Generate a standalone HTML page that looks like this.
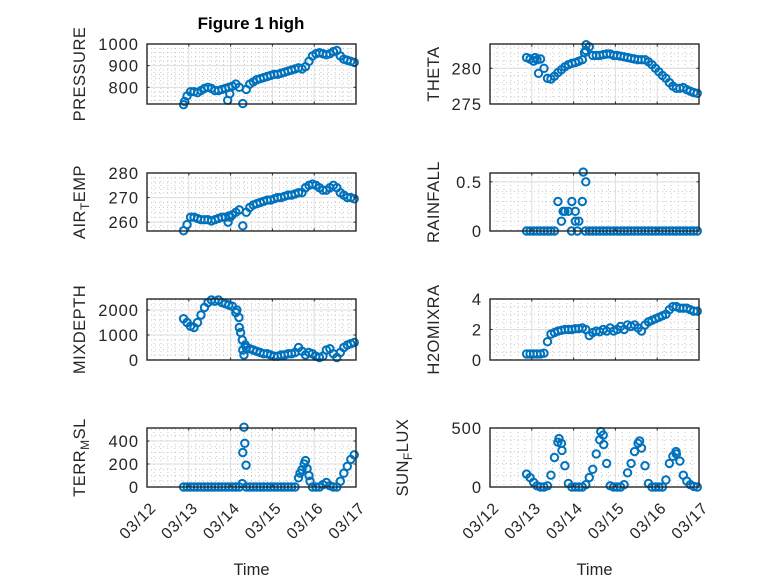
<!DOCTYPE html>
<html><head><meta charset="utf-8"><style>
body{margin:0;background:#fff}
svg{display:block;font-family:"Liberation Sans",sans-serif}
</style></head><body>
<svg id="fig" width="778" height="583" viewBox="0 0 778 583" xmlns="http://www.w3.org/2000/svg">
<rect width="778" height="583" fill="#fff"/>
<text x="251" y="29" text-anchor="middle" font-size="17" font-weight="bold" fill="#000">Figure 1 high</text>
</svg>
<script>
// shared sample times (days since 03/12 00:00), 2-hour step
const timeDays = [];
for (let i = 0; i < 50; i++) timeDays.push(0.875 + i / 12);
const xTickLabels = ["03/12","03/13","03/14","03/15","03/16","03/17"];

const pressureValues = [720,760,780,780,775,785,795,800,795,785,785,790,795,800,805,815,800,725,790,815,825,835,840,845,850,855,860,860,865,870,875,880,885,890,885,895,920,945,955,960,955,950,955,965,970,945,930,925,920,915];
const pressureExtraT = [1.93,1.98,0.9];
const pressureExtraV = [740,770,735];
const airTempValues = [256.5,259,262,262,261.5,261,261,261,260.5,261,261.5,262,262,262.5,263,264,265,258.5,264,266,267,267.5,268,268.5,269,269,269.5,270,270,270.5,271,271,271.5,272,272,274,275,275.5,275,274,273,273,274,275,274,272,271,270,270,269.5];
const airTempExtraT = [1.94,1.99];
const airTempExtraV = [260,262];
const thetaValues = [281.5,281.3,281,281.2,281.3,280,278.6,278.5,278.9,279.4,279.8,280.2,280.5,280.7,280.8,281,281.2,282.5,283,281.8,281.8,281.8,281.9,282,282,281.8,281.8,281.7,281.6,281.5,281.4,281.3,281.2,281.2,281.2,280.9,280.5,280,279.5,279,278.6,278,277.5,277.2,277.2,277.3,277,276.8,276.6,276.5];
const thetaExtraT = [2.26,2.3,1.16,1.08];
const thetaExtraV = [282.2,283.3,279.3,281.5];
const rainValues = [0,0,0,0,0,0,0,0,0,0.3,0.1,0.2,0.2,0.3,0.1,0.1,0.3,0.5,0,0,0,0,0,0,0,0,0,0,0,0,0,0,0,0,0,0,0,0,0,0,0,0,0,0,0,0,0,0,0,0];
const rainExtraT = [1.95,2.09,2.23,1.75,2.04,2.28];
const rainExtraV = [0,0,0.6,0.2,0.2,0];
const mixDepthValues = [1650,1500,1350,1300,1500,1800,2100,2300,2400,2350,2400,2300,2250,2200,2150,1900,1300,400,500,450,400,350,300,250,250,200,150,150,200,200,250,250,300,500,350,200,300,250,150,100,150,400,450,250,100,300,500,600,650,700];
const mixDepthExtraT = [2.15,2.2,2.24,2.28,2.32,2.35];
const mixDepthExtraV = [2000,1700,1100,800,200,600];
const h2oValues = [0.4,0.4,0.4,0.4,0.4,0.45,1.2,1.7,1.8,1.9,1.95,2.0,2.0,2.0,2.05,2.05,2.1,2.0,1.6,1.8,1.9,1.85,2.0,1.9,2.1,1.9,2.0,2.2,2.0,2.3,2.2,2.3,2.1,1.9,2.3,2.5,2.6,2.7,2.8,2.9,3.0,3.3,3.5,3.5,3.4,3.4,3.4,3.3,3.2,3.2];
const terrValues = [0,0,0,0,0,0,0,0,0,0,0,0,0,0,0,0,0,300,0,0,0,0,0,0,0,0,0,0,0,0,0,0,0,80,150,230,100,0,0,0,20,40,10,0,0,50,120,180,240,280];
const terrExtraT = [2.32,2.34,2.37,2.28,3.66,3.76,3.83,3.9];
const terrExtraV = [520,380,190,30,120,200,160,50];
const sunValues = [110,80,40,10,0,0,10,100,250,380,370,180,30,0,0,0,0,20,80,150,280,400,440,200,10,0,0,0,20,120,200,300,370,330,180,30,0,0,0,0,60,200,260,280,220,100,50,20,5,0];
const sunExtraT = [1.65,2.65,2.72,1.72,3.58,4.45];
const sunExtraV = [410,470,360,310,390,300];

const NS = "http://www.w3.org/2000/svg";
const svg = document.getElementById("fig");
function mk(tag, attrs, parent){const e=document.createElementNS(NS,tag);for(const k in attrs)e.setAttribute(k,attrs[k]);(parent||svg).appendChild(e);return e;}

function panel(cfg){
  const g = mk("g",{});
  
  
  const {L,R,T,B,ymin,ymax} = cfg;
  const xs = t => L + (t/5)*(R-L);
  const ys = v => B - (v-ymin)/(ymax-ymin)*(B-T);
  for (let d=0; d<5; d++) for (let k=1;k<6;k++){
    const x = xs(d + k/6);
    mk("line",{x1:x,x2:x,y1:T,y2:B,stroke:"#c8c8c8","stroke-width":1,"stroke-dasharray":"1 3"},g);
  }
  const ymStep = cfg.minor;
  for (let v=Math.ceil(ymin/ymStep)*ymStep; v<=ymax+1e-9; v+=ymStep){
    const y=ys(v); if (y<T+0.5||y>B-0.5) continue;
    mk("line",{x1:L,x2:R,y1:y,y2:y,stroke:"#c8c8c8","stroke-width":1,"stroke-dasharray":"1 3"},g);
  }
  for (let d=1; d<5; d++){const x=xs(d);mk("line",{x1:x,x2:x,y1:T,y2:B,stroke:"#dedede","stroke-width":1},g);}
  cfg.ticks.forEach(v=>{const y=ys(v); if(y>T+0.5&&y<B-0.5) mk("line",{x1:L,x2:R,y1:y,y2:y,stroke:"#dedede","stroke-width":1},g);});
  const dg = mk("g",{},g);
  
  
  const pts = timeDays.map((t,i)=>[t,cfg.values[i]]).concat((cfg.exT||[]).map((t,i)=>[t,cfg.exV[i]]));
  pts.forEach(p=>{
    const c = mk("circle",{cx:xs(p[0]),cy:ys(p[1]),r:3.7,fill:"none",stroke:"#0072BD","stroke-width":2},dg);
    
    
  });
  mk("rect",{x:L,y:T,width:R-L,height:B-T,fill:"none",stroke:"#262626","stroke-width":1.4},g);
  for (let d=0; d<=5; d++){const x=xs(d);
    mk("line",{x1:x,x2:x,y1:B,y2:B-2.5,stroke:"#262626"},g);
    mk("line",{x1:x,x2:x,y1:T,y2:T+2.5,stroke:"#262626"},g);
    if (cfg.xlabels){
      const ax=x+10, ay=B+22;
      const tx = mk("text",{x:ax,y:ay,"text-anchor":"end","font-size":16,"letter-spacing":0.8,fill:"#262626",transform:`rotate(-45 ${ax} ${ay})`},g);
      
      
      tx.textContent = xTickLabels[d];
    }
  }
  cfg.ticks.forEach((v,i)=>{const y=ys(v);
    mk("line",{x1:L,x2:L+2.5,y1:y,y2:y,stroke:"#262626"},g);
    mk("line",{x1:R,x2:R-2.5,y1:y,y2:y,stroke:"#262626"},g);
    const tx = mk("text",{x:L-8,y:y+6,"text-anchor":"end","font-size":16.5,"letter-spacing":1,fill:"#262626"},g);
    
    
    tx.textContent = cfg.tickLabels[i];
  });
  const cy = (T+B)/2, lx = cfg.labelX;
  const yl = mk("text",{x:lx,y:cy,"text-anchor":"middle","font-size":16.5,"letter-spacing":0.5,fill:"#262626",transform:`rotate(-90 ${lx} ${cy})`},g);
  
  
  if (cfg.sub){
    const a=mk("tspan",{},yl);a.textContent=cfg.sub[0];
    const b=mk("tspan",{dy:4,"font-size":12},yl);b.textContent=cfg.sub[1];
    const c=mk("tspan",{dy:-4},yl);c.textContent=cfg.sub[2];
  } else yl.textContent = cfg.label;
  if (cfg.xtitle){
    const xt = mk("text",{x:(L+R)/2,y:575,"text-anchor":"middle","font-size":16.5,fill:"#262626"},g);
    
    
    xt.textContent = "Time";
  }
}
const LL=147, LR=356, RL=490, RR=699;
panel({name:"pressure",L:LL,R:LR,T:44,B:104,ymin:723,ymax:1000,ticks:[800,900,1000],tickLabels:["800","900","1000"],minor:20,values:pressureValues,exT:pressureExtraT,exV:pressureExtraV,label:"PRESSURE",labelX:85});
panel({name:"theta",L:RL,R:RR,T:44,B:104,ymin:275,ymax:283.4,ticks:[275,280],tickLabels:["275","280"],minor:1,values:thetaValues,exT:thetaExtraT,exV:thetaExtraV,label:"THETA",labelX:439});
panel({name:"air-temp",L:LL,R:LR,T:173,B:231,ymin:256.4,ymax:280,ticks:[260,270,280],tickLabels:["260","270","280"],minor:2,values:airTempValues,exT:airTempExtraT,exV:airTempExtraV,sub:["AIR","T","EMP"],labelX:85});
panel({name:"rainfall",L:RL,R:RR,T:173,B:231,ymin:0,ymax:0.59,ticks:[0,0.5],tickLabels:["0","0.5"],minor:0.1,values:rainValues,exT:rainExtraT,exV:rainExtraV,label:"RAINFALL",labelX:439});
panel({name:"mixdepth",L:LL,R:LR,T:299,B:360,ymin:0,ymax:2440,ticks:[0,1000,2000],tickLabels:["0","1000","2000"],minor:200,values:mixDepthValues,exT:mixDepthExtraT,exV:mixDepthExtraV,label:"MIXDEPTH",labelX:85});
panel({name:"h2omixra",L:RL,R:RR,T:299,B:360,ymin:0,ymax:4,ticks:[0,2,4],tickLabels:["0","2","4"],minor:0.5,values:h2oValues,label:"H2OMIXRA",labelX:439});
panel({name:"terr-msl",L:LL,R:LR,T:428,B:487,ymin:0,ymax:513,ticks:[0,200,400],tickLabels:["0","200","400"],minor:50,values:terrValues,exT:terrExtraT,exV:terrExtraV,sub:["TERR","M","SL"],labelX:85,xlabels:true,xtitle:true});
panel({name:"sun-flux",L:RL,R:RR,T:428,B:487,ymin:0,ymax:500,ticks:[0,500],tickLabels:["0","500"],minor:100,values:sunValues,exT:sunExtraT,exV:sunExtraV,sub:["SUN","F","LUX"],labelX:408,xlabels:true,xtitle:true});
</script>
</body></html>
